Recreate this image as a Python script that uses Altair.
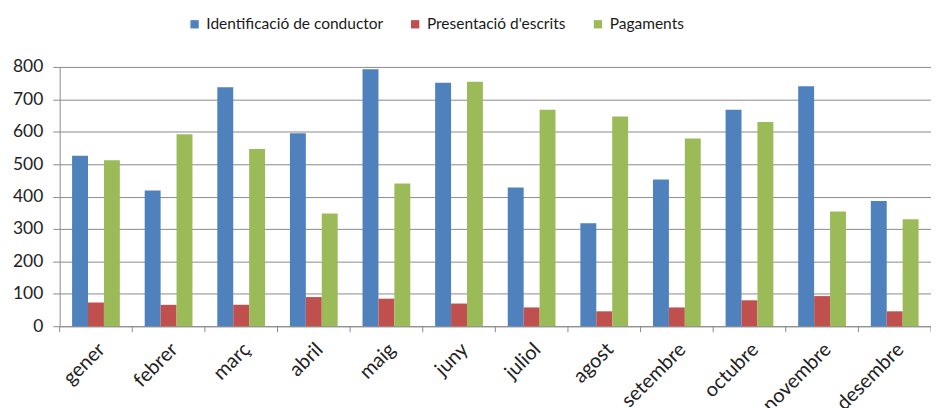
import altair as alt
import pandas as pd

months = ["gener", "febrer", "març", "abril", "maig", "juny", "juliol",
          "agost", "setembre", "octubre", "novembre", "desembre"]
series = ["Identificació de conductor", "Presentació d'escrits", "Pagaments"]
identificacio = [526, 419, 737, 595, 793, 751, 428, 318, 453, 668, 740, 386]
presentacio = [73, 66, 66, 90, 85, 70, 58, 46, 58, 80, 93, 46]
pagaments = [512, 592, 547, 348, 440, 754, 668, 647, 579, 630, 354, 330]
colors = ["#4F81BD", "#C0504D", "#9BBB59"]
y_ticks = [0, 100, 200, 300, 400, 500, 600, 700, 800]

rows = []
for s, vals in zip(series, [identificacio, presentacio, pagaments]):
    for m, v in zip(months, vals):
        rows.append({"mes": m, "serie": s, "valor": v})
df = pd.DataFrame(rows)
df_months = pd.DataFrame({"mes": months})

FONT = "Lato"
W, H = 877, 261
GRID = "#8a8a8a"

xscale = alt.Scale(domain=months, paddingInner=0, paddingOuter=0)

bars = alt.Chart(df).mark_bar().encode(
    x=alt.X("mes:N", scale=xscale, sort=months,
            axis=alt.Axis(title=None, labelAngle=315, labelAlign="right",
                          labelBaseline="middle", labelFont=FONT, labelFontSize=20,
                          labelColor="#222222", labelPadding=20, labelOffset=6,
                          ticks=False, domainColor=GRID, grid=False)),
    xOffset=alt.XOffset("serie:N", sort=series,
                        scale=alt.Scale(domain=series, paddingInner=0, paddingOuter=0.78)),
    y=alt.Y("valor:Q", scale=alt.Scale(domain=[0, 800], nice=False),
            axis=alt.Axis(title=None, values=y_ticks, labelFont=FONT, labelFontSize=17.5,
                          labelColor="#222222", labelPadding=10, tickSize=7,
                          tickColor=GRID, domainColor=GRID, gridColor=GRID)),
    color=alt.Color("serie:N", sort=series,
                    scale=alt.Scale(domain=series, range=colors),
                    legend=alt.Legend(title=None, orient="none", direction="horizontal",
                                      legendX=128, legendY=-51, columns=3,
                                      columnPadding=24, symbolType="square",
                                      symbolSize=70, symbolStrokeWidth=0,
                                      labelFont=FONT, labelFontSize=15.6,
                                      labelLimit=0,
                                      labelColor="#1a1a1a", labelOffset=4)),
)

ticks = alt.Chart(df_months).mark_rule(color=GRID).encode(
    x=alt.X("mes:N", scale=xscale, sort=months, bandPosition=0),
    y=alt.value(H),
    y2=alt.value(H + 6),
)
last_tick = alt.Chart(df_months.head(1)).mark_rule(color=GRID).encode(
    x=alt.value(W), y=alt.value(H), y2=alt.value(H + 6)
)

chart = alt.layer(bars, ticks, last_tick).properties(
    width=W, height=H,
    autosize=alt.AutoSizeParams(type="none"),
    padding={"left": 52, "top": 58, "right": 0, "bottom": 81},
).configure_view(stroke=None)

chart.save("out.html", embed_options={"renderer": "svg", "actions": False})
